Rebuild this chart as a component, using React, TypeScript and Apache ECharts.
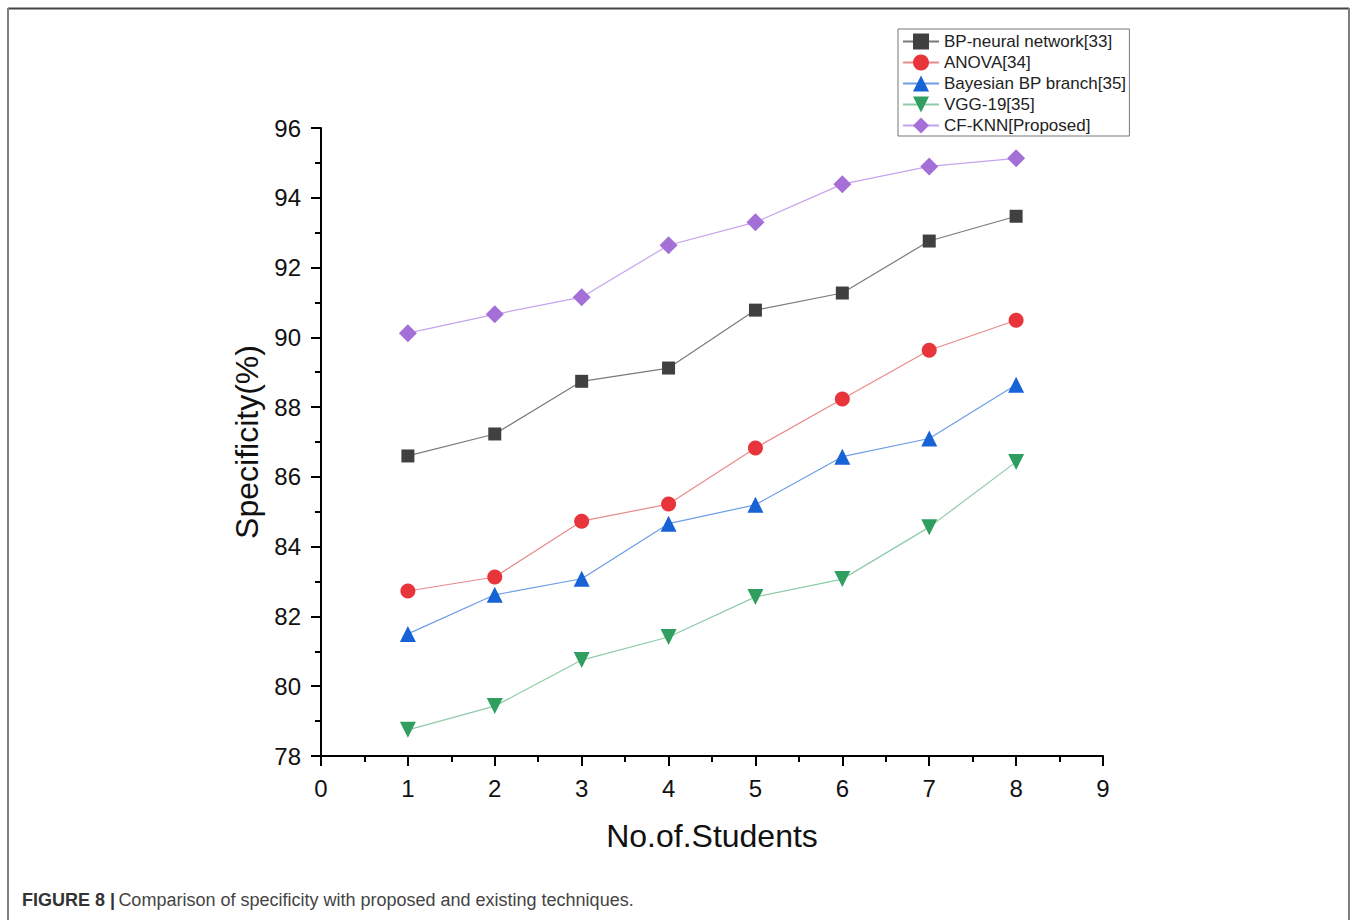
import React, { useEffect, useRef } from "react";
import * as echarts from "echarts";

const students = [1, 2, 3, 4, 5, 6, 7, 8];
const bpNeural = [86.6, 87.23, 88.74, 89.12, 90.78, 91.27, 92.76, 93.47];
const anova = [82.73, 83.13, 84.73, 85.22, 86.83, 88.23, 89.63, 90.49];
const bayesian = [81.5, 82.62, 83.08, 84.66, 85.2, 86.58, 87.1, 88.64];
const vgg19 = [78.75, 79.43, 80.75, 81.41, 82.56, 83.07, 84.56, 86.43];
const cfKnn = [90.12, 90.66, 91.15, 92.64, 93.3, 94.39, 94.9, 95.13];

const seriesNames = [
  "BP-neural network[33]",
  "ANOVA[34]",
  "Bayesian BP branch[35]",
  "VGG-19[35]",
  "CF-KNN[Proposed]",
];

const FONT = "'Liberation Sans', Arial, Helvetica, sans-serif";

export default function App() {
  const ref = useRef<HTMLDivElement>(null);
  useEffect(() => {
    if (!ref.current) return;
    const chart = echarts.init(ref.current, undefined, { renderer: "svg" });
    const mk = (vals: number[]) => students.map((s, i) => [s, vals[i]]);
    const defs = [
      { name: seriesNames[0], data: bpNeural, symbol: "rect", size: 13, rot: 0, mc: "#404040", lc: "#7a7a7a" },
      { name: seriesNames[1], data: anova, symbol: "circle", size: 15, rot: 0, mc: "#e8353b", lc: "#e88a8a" },
      { name: seriesNames[2], data: bayesian, symbol: "triangle", size: 16, rot: 0, mc: "#1763d6", lc: "#6c9de6" },
      { name: seriesNames[3], data: vgg19, symbol: "triangle", size: 16, rot: 180, mc: "#2f9e5f", lc: "#8ecba8" },
      { name: seriesNames[4], data: cfKnn, symbol: "diamond", size: 18, rot: 0, mc: "#a56fd8", lc: "#c6a3ec" },
    ];
    chart.setOption({
      animation: false,
      backgroundColor: "#ffffff",
      grid: { left: 321, top: 128, right: 254, bottom: 164, containLabel: false },
      legend: {
        orient: "vertical",
        left: 898,
        top: 29,
        itemWidth: 36,
        itemHeight: 20,
        itemGap: 4,
        padding: [4, 3, 2, 4],
        borderColor: "#777",
        borderWidth: 1,
        textStyle: { fontFamily: FONT, fontSize: 17, color: "#222" },
        data: seriesNames,
      },
      xAxis: {
        type: "value",
        min: 0,
        max: 9,
        interval: 1,
        name: "No.of.Students",
        nameLocation: "middle",
        nameGap: 64,
        nameTextStyle: { fontFamily: FONT, fontSize: 32, color: "#111" },
        axisLine: { show: true, lineStyle: { color: "#000", width: 2 } },
        axisTick: { show: true, length: 10, lineStyle: { color: "#000", width: 2 } },
        minorTick: { show: true, splitNumber: 2, length: 6, lineStyle: { color: "#000", width: 2 } },
        axisLabel: { fontFamily: FONT, fontSize: 24, color: "#111", margin: 20 },
        splitLine: { show: false },
      },
      yAxis: {
        type: "value",
        min: 78,
        max: 96,
        interval: 2,
        name: "Specificity(%)",
        nameLocation: "middle",
        nameGap: 58,
        nameTextStyle: { fontFamily: FONT, fontSize: 32, color: "#111" },
        axisLine: { show: true, lineStyle: { color: "#000", width: 2 } },
        axisTick: { show: true, length: 10, lineStyle: { color: "#000", width: 2 } },
        minorTick: { show: true, splitNumber: 2, length: 6, lineStyle: { color: "#000", width: 2 } },
        axisLabel: { fontFamily: FONT, fontSize: 24, color: "#111", margin: 20 },
        splitLine: { show: false },
      },
      series: defs.map((d) => ({
        type: "line",
        name: d.name,
        data: mk(d.data),
        symbol: d.symbol,
        symbolSize: d.size,
        symbolRotate: d.rot,
        showAllSymbol: true,
        itemStyle: { color: d.mc },
        lineStyle: { color: d.lc, width: 1.2 },
        emphasis: { disabled: true },
      })),
      graphic: [
        { type: "line", shape: { x1: 8, y1: 8.5, x2: 1349, y2: 8.5 }, style: { stroke: "#444", lineWidth: 2 } },
        { type: "line", shape: { x1: 8, y1: 8, x2: 8, y2: 920 }, style: { stroke: "#808080", lineWidth: 2 } },
        { type: "line", shape: { x1: 1349, y1: 8, x2: 1349, y2: 920 }, style: { stroke: "#808080", lineWidth: 2 } },
        {
          type: "text",
          left: 22,
          top: 891,
          style: {
            text: "{b|FIGURE 8 |} {r|Comparison of specificity with proposed and existing techniques.}",
            rich: {
              b: { fontFamily: FONT, fontSize: 18, fontWeight: "bold", fill: "#333" },
              r: { fontFamily: FONT, fontSize: 18, fill: "#444" },
            },
          },
        },
      ],
    });
    return () => chart.dispose();
  }, []);
  return (
    <div
      ref={ref}
      style={{ position: "fixed", left: 0, top: 0, width: 1357, height: 920, background: "#fff" }}
    />
  );
}
